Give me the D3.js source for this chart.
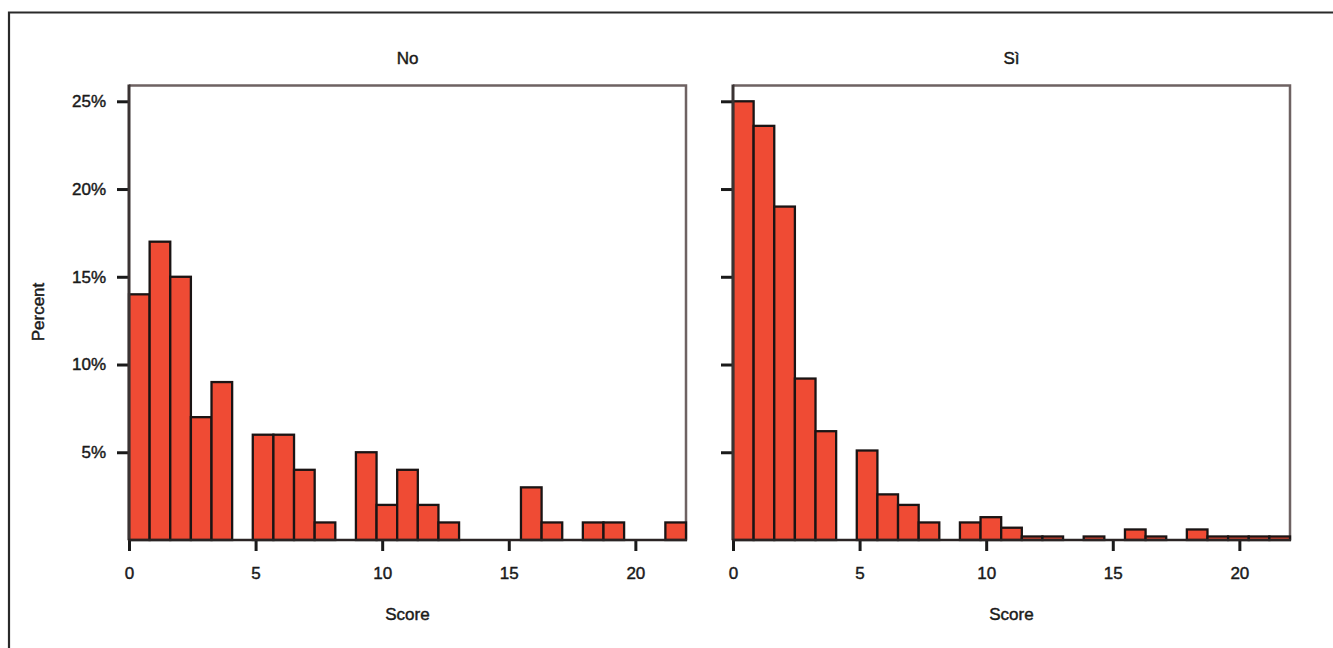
<!DOCTYPE html>
<html>
<head>
<meta charset="utf-8">
<script src="https://cdn.jsdelivr.net/npm/d3@7/dist/d3.min.js"></script>
<style>
  html, body { margin: 0; padding: 0; background: #fff; }
  svg { display: block; }
  text { font-family: "Liberation Sans", Arial, Helvetica, sans-serif; fill: #1a1a1a; stroke: #1a1a1a; stroke-width: 0.45px; }
</style>
</head>
<body>
<svg id="chart" width="1333" height="648"></svg>
<script>
// ---- data ----
const panelTitles = ["No", "Sì"];
const binCount = 27;
const xMax = 22;
const noValues = [14, 17, 15, 7, 9, 0, 6, 6, 4, 1, 0, 5, 2, 4, 2, 1, 0, 0, 0, 3, 1, 0, 1, 1, 0, 0, 1];
const siValues = [25, 23.6, 19, 9.2, 6.2, 0, 5.1, 2.6, 2.0, 1.0, 0, 1.0, 1.3, 0.7, 0.2, 0.2, 0, 0.2, 0, 0.6, 0.2, 0, 0.6, 0.2, 0.2, 0.2, 0.2];
const xTicks = [0, 5, 10, 15, 20];
const yTicks = [5, 10, 15, 20, 25];
const xLabel = "Score";
const yLabel = "Percent";

// ---- layout ----
const svg = d3.select("#chart");
const yTopPx = 85.5, yZeroPx = 540;
const panels = [
  { title: panelTitles[0], values: noValues, x0: 129, x1: 686, showYLabels: true },
  { title: panelTitles[1], values: siValues, x0: 733, x1: 1290, showYLabels: false }
];
const y = d3.scaleLinear().domain([0, 25.9]).range([yZeroPx, yTopPx]);
const binW = xMax / binCount;

// outer frame (open to right/bottom like the cropped original)
svg.append("path")
  .attr("d", "M9,660 L9,12.5 L1345,12.5")
  .attr("fill", "none").attr("stroke", "#2a2a2a").attr("stroke-width", 2.2);

const barFill = "#ef4b34";
const frameCol = "#6e6262";

panels.forEach(p => {
  const x = d3.scaleLinear().domain([0, xMax]).range([p.x0, p.x1]);
  const g = svg.append("g");
  const bins = p.values.map((v, i) => ({ x0: i * binW, x1: (i + 1) * binW, v }));

  g.append("path")
    .attr("d", `M${p.x0},${yTopPx} L${p.x1},${yTopPx} L${p.x1},${yZeroPx}`)
    .attr("fill", "none").attr("stroke", frameCol).attr("stroke-width", 2.5);

  g.selectAll("rect.bar").data(bins.filter(b => b.v > 0)).join("rect")
    .attr("class", "bar")
    .attr("x", d => x(d.x0))
    .attr("y", d => y(d.v))
    .attr("width", d => x(d.x1) - x(d.x0))
    .attr("height", d => y(0) - y(d.v))
    .attr("fill", barFill)
    .attr("stroke", "#1a1414").attr("stroke-width", 2.3);

  const yAxis = d3.axisLeft(y).tickValues(yTicks).tickSize(12)
    .tickFormat(p.showYLabels ? (d => d + "%") : "");
  const ya = g.append("g").attr("transform", `translate(${p.x0},0)`).call(yAxis);
  ya.select(".domain").remove();
  ya.selectAll(".tick line").attr("stroke", "#1a1a1a").attr("stroke-width", 3);
  ya.selectAll(".tick text").attr("x", -23).style("font-size", "17px").attr("fill", "#1a1a1a");
  g.append("line").attr("x1", p.x0).attr("x2", p.x0).attr("y1", yTopPx - 1).attr("y2", yZeroPx)
    .attr("stroke", "#3a3333").attr("stroke-width", 3);

  const xAxis = d3.axisBottom(x).tickValues(xTicks).tickSize(11).tickPadding(16);
  const xa = g.append("g").attr("transform", `translate(0,${yZeroPx})`).call(xAxis);
  xa.select(".domain").remove();
  xa.selectAll(".tick line").attr("stroke", "#1a1a1a").attr("stroke-width", 3);
  xa.selectAll(".tick text").style("font-size", "17px").attr("fill", "#1a1a1a");
  g.append("line").attr("x1", p.x0 - 1).attr("x2", p.x1 + 1).attr("y1", yZeroPx).attr("y2", yZeroPx)
    .attr("stroke", "#2a2424").attr("stroke-width", 2.5);

  const cx = (p.x0 + p.x1) / 2;
  g.append("text").attr("x", cx).attr("y", 64).attr("text-anchor", "middle")
    .style("font-size", "17px").text(p.title);
  g.append("text").attr("x", cx).attr("y", 620).attr("text-anchor", "middle")
    .style("font-size", "17px").text(xLabel);
});

svg.append("text")
  .attr("transform", "translate(44,312) rotate(-90)")
  .attr("text-anchor", "middle")
  .style("font-size", "17px")
  .text(yLabel);
</script>
</body>
</html>
